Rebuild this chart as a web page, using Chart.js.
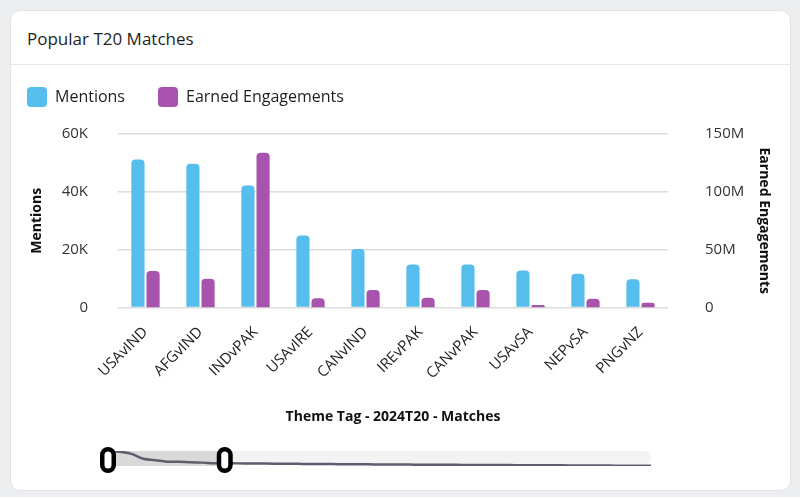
<!DOCTYPE html>
<html>
<head>
<meta charset="utf-8">
<script src="https://cdn.jsdelivr.net/npm/chart.js@4.4.1/dist/chart.umd.min.js"></script>
<style>
  html, body { margin: 0; padding: 0; background: #eceef0; width: 800px; height: 497px; overflow: hidden; font-family: "Open Sans", sans-serif; }
  .card { position: absolute; left: 10px; top: 10px; width: 779px; height: 479px; background: #fff; border: 1px solid #e1e3e6; border-radius: 10px; }
  .title { position: absolute; left: 16px; top: 16px; font-size: 17px; color: #1f1f1f; }
  .sep { position: absolute; left: 0; right: 0; top: 53px; height: 1px; background: #e6e7e9; }
  #main { position: absolute; left: 0; top: 46px; }
  #nav { position: absolute; left: -10px; top: 419px; }
</style>
</head>
<body>
<div class="card">
  <div class="title">Popular T20 Matches</div>
  <div class="sep"></div>
  <canvas id="main" width="779" height="368"></canvas>
  <canvas id="nav" width="800" height="50"></canvas>
</div>
<script>
// ---- data ----
const categories = ["USAvIND", "AFGvIND", "INDvPAK", "USAvIRE", "CANvIND", "IREvPAK", "CANvPAK", "USAvSA", "NEPvSA", "PNGvNZ"];
const mentions = [51200, 49700, 42200, 24900, 20200, 14900, 14900, 12800, 11700, 9800];
const earnedEngagements = [31500000, 24800000, 133800000, 7900000, 15100000, 8400000, 15100000, 2200000, 7600000, 4100000];
const leftTicks = [0, 20000, 40000, 60000];
const rightTicks = [0, 50000000, 100000000, 150000000];
// full-range mentions series shown in the zoom navigator (first 10 = visible categories)
const navigatorMentions = [51200, 49700, 42200, 24900, 20200, 14900, 14900, 12800, 11700, 9800,
  9400, 9100, 8800, 8500, 8200, 7900, 7500, 7200, 6900, 6600,
  6300, 6000, 5700, 5400, 5200, 4900, 4700, 4500, 4300, 4100,
  3900, 3700, 3500, 3300, 3100, 2900, 2700, 2500, 2300, 2100,
  1900, 1700, 1500, 1300, 1100, 900, 700];
const zoomStartPct = 0;
const zoomEndPct = 21.5;

const fontFam = '"Open Sans", sans-serif';
const fmtK = v => v === 0 ? '0' : (v / 1000) + 'K';
const fmtM = v => v === 0 ? '0' : (v / 1000000) + 'M';

const legendTweak = {
  id: 'legendTweak',
  beforeInit(chart) {
    const lg = chart.legend;
    if (!lg) return;
    const origFit = lg.fit;
    lg.fit = function () { origFit.call(this); this.height += 14; };
  },
  afterLayout(chart) {
    if (chart.legend) { chart.legend.left -= 31; chart.legend.top -= 3; }
  }
};

new Chart(document.getElementById('main'), {
  type: 'bar',
  data: {
    labels: categories,
    datasets: [
      { label: 'Mentions', data: mentions, yAxisID: 'y', backgroundColor: '#55beed', borderRadius: { topLeft: 4, topRight: 4 }, borderSkipped: 'bottom' },
      { label: 'Earned Engagements', data: earnedEngagements, yAxisID: 'y1', backgroundColor: '#a854ae', borderRadius: { topLeft: 4, topRight: 4 }, borderSkipped: 'bottom' }
    ]
  },
  options: {
    responsive: false,
    animation: false,
    categoryPercentage: 0.55,
    barPercentage: 0.87,
    layout: { padding: { left: 14, right: 14, top: 0, bottom: 0 } },
    plugins: {
      tooltip: { enabled: false },
      legend: {
        position: 'top',
        align: 'start',
        labels: {
          boxWidth: 20, boxHeight: 20, useBorderRadius: true, borderRadius: 4,
          padding: 33, color: '#1f1f1f',
          font: { family: fontFam, size: 16 }
        }
      }
    },
    scales: {
      x: {
        grid: { display: false },
        border: { display: false },
        afterFit: s => { s.paddingLeft = 0; s.paddingRight = 0; s.height = 117.5; },
        ticks: { minRotation: 45, maxRotation: 45, color: '#1f1f1f', font: { family: fontFam, size: 15 }, padding: 8 },
        title: { display: true, text: 'Theme Tag - 2024T20 - Matches', color: '#111', font: { family: fontFam, size: 14, weight: 'bold' }, padding: { top: 10, bottom: 0 } }
      },
      y: {
        position: 'left',
        min: 0, max: 60000,
        afterBuildTicks: s => { s.ticks = leftTicks.map(v => ({ value: v })); },
        afterFit: s => { s.width = 93; },
        grid: { color: '#dcdcdc', drawTicks: false, lineWidth: 1.5 },
        border: { display: false },
        ticks: { callback: fmtK, color: '#333', font: { family: fontFam, size: 15 }, padding: 30 },
        title: { display: true, text: 'Mentions', color: '#111', font: { family: fontFam, size: 14, weight: 'bold' }, padding: 4 }
      },
      y1: {
        position: 'right',
        min: 0, max: 150000000,
        afterBuildTicks: s => { s.ticks = rightTicks.map(v => ({ value: v })); },
        afterFit: s => { s.width = 108; },
        grid: { display: false, drawTicks: false },
        border: { display: false },
        ticks: { callback: fmtM, color: '#333', font: { family: fontFam, size: 15 }, padding: 37 },
        title: { display: true, text: 'Earned Engagements', color: '#111', font: { family: fontFam, size: 14, weight: 'bold' }, padding: 4 }
      }
    }
  },
  plugins: [legendTweak]
});

// ---- navigator (data zoom slider) ----
const navPlugin = {
  id: 'navDecor',
  beforeDatasetsDraw(chart) {
    const { ctx, chartArea: a } = chart;
    ctx.save();
    ctx.fillStyle = '#f3f3f3';
    ctx.beginPath();
    ctx.roundRect(a.left, a.top, a.right - a.left, a.bottom - a.top - 2, [0, 7, 7, 0]);
    ctx.fill();
    const x0 = a.left + (a.right - a.left) * zoomStartPct / 100;
    const x1 = a.left + (a.right - a.left) * zoomEndPct / 100;
    ctx.fillStyle = '#d9d9d9';
    ctx.fillRect(x0, a.top, x1 - x0, a.bottom - a.top);
    ctx.restore();
  },
  afterDraw(chart) {
    const { ctx, chartArea: a } = chart;
    const xs = [a.left + (a.right - a.left) * zoomStartPct / 100, a.left + (a.right - a.left) * zoomEndPct / 100];
    ctx.save();
    xs.forEach(x => {
      ctx.beginPath();
      ctx.roundRect(x - 5.75, a.top - 1.75, 11.5, 21.5, 5.75);
      ctx.fillStyle = '#fff';
      ctx.fill();
      ctx.lineWidth = 4.5;
      ctx.strokeStyle = '#000';
      ctx.stroke();
    });
    ctx.restore();
  }
};

new Chart(document.getElementById('nav'), {
  type: 'line',
  data: {
    labels: navigatorMentions.map((_, i) => i),
    datasets: [{ data: navigatorMentions, borderColor: '#5d5d6e', borderWidth: 2.5, pointRadius: 0, tension: 0.4, fill: false }]
  },
  options: {
    responsive: false,
    animation: false,
    layout: { padding: { left: 107, right: 150, top: 21, bottom: 14 } },
    plugins: { legend: { display: false }, tooltip: { enabled: false } },
    scales: {
      x: { display: false, offset: false },
      y: { display: false, min: 0, max: 52000 }
    }
  },
  plugins: [navPlugin]
});
</script>
</body>
</html>
